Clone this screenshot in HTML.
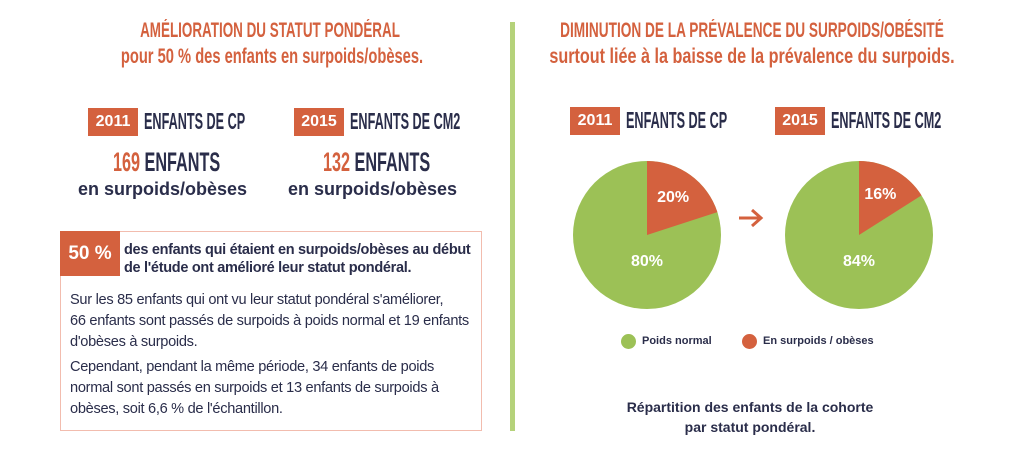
<!DOCTYPE html>
<html><head><meta charset="utf-8"><style>
body{margin:0;width:1024px;height:451px;background:#fff;position:relative;overflow:hidden;font-family:"Liberation Sans",sans-serif;color:#2a2d4a}
.a{position:absolute;white-space:nowrap}
.cond{font-family:"Liberation Sans Narrow","Liberation Sans",sans-serif;font-weight:bold}
.red{color:#d4613e}
.tag{position:absolute;background:#d4613e;color:#fff;font-weight:bold;font-size:16px;text-align:center;line-height:28px;height:28px;width:50px}
.hd{font-size:23px;transform:scaleX(.55);transform-origin:left}
.ctr{transform-origin:center;text-align:center}
</style></head><body>
<div class="a cond red ctr" style="left:0;width:540px;top:19px;font-size:21px;transform:scaleX(.64)">AMÉLIORATION DU STATUT PONDÉRAL</div>
<div class="a cond red ctr" style="left:0;width:544px;top:45px;font-size:21px;transform:scaleX(.7)">pour 50 % des enfants en surpoids/obèses.</div>

<div class="tag" style="left:88px;top:108px">2011</div>
<div class="a cond hd" style="left:144px;top:108px">ENFANTS DE CP</div>
<div class="tag" style="left:294px;top:108px">2015</div>
<div class="a cond hd" style="left:350px;top:108px">ENFANTS DE CM2</div>

<div class="a cond ctr" style="left:80px;width:165px;top:147px;font-size:27px;transform:scaleX(.6)"><span class="red">169</span> ENFANTS</div>
<div class="a" style="left:70px;width:185px;text-align:center;top:179px;font-size:18px;font-weight:bold">en surpoids/obèses</div>
<div class="a cond ctr" style="left:290px;width:165px;top:147px;font-size:27px;transform:scaleX(.6)"><span class="red">132</span> ENFANTS</div>
<div class="a" style="left:280px;width:185px;text-align:center;top:179px;font-size:18px;font-weight:bold">en surpoids/obèses</div>

<div class="a" style="left:60px;top:231px;width:420px;height:198px;border:1px solid #f2bcae"></div>
<div class="a" style="left:60px;top:231px;width:60px;height:45px;background:#d4613e;color:#fff;font-weight:bold;font-size:19px;text-align:center;line-height:45px">50 %</div>
<div class="a" style="left:124px;top:241px;font-size:14.5px;font-weight:bold;line-height:18px;letter-spacing:-0.3px">des enfants qui étaient en surpoids/obèses au début<br>de l'étude ont amélioré leur statut pondéral.</div>
<div class="a" style="left:70px;top:290px;font-size:14.6px;line-height:21px;letter-spacing:-0.3px">Sur les 85 enfants qui ont vu leur statut pondéral s'améliorer,<br>66 enfants sont passés de surpoids à poids normal et 19 enfants<br>d'obèses à surpoids.</div>
<div class="a" style="left:70px;top:357px;font-size:14.6px;line-height:21px;letter-spacing:-0.3px">Cependant, pendant la même période, 34 enfants de poids<br>normal sont passés en surpoids et 13 enfants de surpoids à<br>obèses, soit 6,6 % de l'échantillon.</div>

<div class="a" style="left:510px;top:22px;width:5px;height:409px;background:#b5d27a"></div>

<div class="a cond red ctr" style="left:452px;width:600px;top:19px;font-size:21px;transform:scaleX(.65)">DIMINUTION DE LA PRÉVALENCE DU SURPOIDS/OBÉSITÉ</div>
<div class="a cond red ctr" style="left:452px;width:600px;top:45px;font-size:21px;transform:scaleX(.77)">surtout liée à la baisse de la prévalence du surpoids.</div>

<div class="tag" style="left:570px;top:107px">2011</div>
<div class="a cond hd" style="left:626px;top:107px">ENFANTS DE CP</div>
<div class="tag" style="left:775px;top:107px">2015</div>
<div class="a cond hd" style="left:831px;top:107px">ENFANTS DE CM2</div>

<svg class="a" style="left:0;top:0" width="1024" height="451" id="pies">
<path d="M739 218 H760 M752 210 L761 218 L752 226" stroke="#d4613e" stroke-width="3" fill="none"/>
</svg>

<div class="a" style="left:621px;top:333px;font-size:11px;font-weight:bold;line-height:16px"><span style="display:inline-block;width:15px;height:15px;border-radius:50%;background:#9cc156;vertical-align:middle;margin-right:6px"></span>Poids normal</div>
<div class="a" style="left:742px;top:333px;font-size:11px;font-weight:bold;line-height:16px"><span style="display:inline-block;width:15px;height:15px;border-radius:50%;background:#d4613e;vertical-align:middle;margin-right:6px"></span>En surpoids / obèses</div>

<div class="a" style="left:600px;width:300px;text-align:center;top:397px;font-size:14px;font-weight:bold;line-height:20px">Répartition des enfants de la cohorte<br>par statut pondéral.</div>

<script>
const years = ["2011", "2015"];
const overweightPct = [20, 16];
const normalPct = [80, 84];
const centersX = [647, 859];
const cy = 235, r = 74;
const svg = document.getElementById('pies');
const NS = 'http://www.w3.org/2000/svg';
function pt(cx, ang, rad){ const a=(ang-90)*Math.PI/180; return [cx+rad*Math.cos(a), cy+rad*Math.sin(a)]; }
years.forEach((y,i)=>{
  const cx = centersX[i];
  const ang = overweightPct[i]/100*360;
  const g = document.createElementNS(NS,'circle');
  g.setAttribute('cx',cx); g.setAttribute('cy',cy); g.setAttribute('r',r); g.setAttribute('fill','#9cc156');
  
  
  svg.appendChild(g);
  const p1 = pt(cx,0,r), p2 = pt(cx,ang,r);
  const s = document.createElementNS(NS,'path');
  s.setAttribute('d',`M${cx} ${cy} L${p1[0]} ${p1[1]} A${r} ${r} 0 ${ang>180?1:0} 1 ${p2[0]} ${p2[1]} Z`);
  s.setAttribute('fill','#d4613e');
  
  
  svg.appendChild(s);
  const lp = pt(cx, ang/2, r*0.6);
  const t1 = document.createElementNS(NS,'text');
  t1.setAttribute('x',lp[0]); t1.setAttribute('y',lp[1]+3);
  t1.setAttribute('text-anchor','middle'); t1.setAttribute('fill','#fff');
  t1.setAttribute('font-family','Liberation Sans, sans-serif'); t1.setAttribute('font-weight','bold'); t1.setAttribute('font-size','16');
  t1.textContent = overweightPct[i] + '%';
  
  
  svg.appendChild(t1);
  const t2 = document.createElementNS(NS,'text');
  t2.setAttribute('x',cx); t2.setAttribute('y',cy+31);
  t2.setAttribute('text-anchor','middle'); t2.setAttribute('fill','#fff');
  t2.setAttribute('font-family','Liberation Sans, sans-serif'); t2.setAttribute('font-weight','bold'); t2.setAttribute('font-size','16');
  t2.textContent = normalPct[i] + '%';
  
  
  svg.appendChild(t2);
});
</script>
</body></html>
